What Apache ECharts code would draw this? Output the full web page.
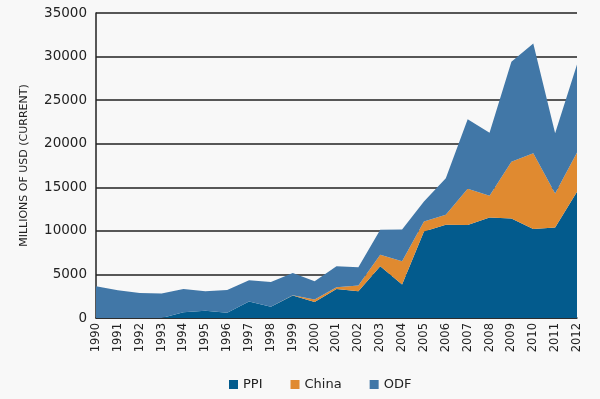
<!DOCTYPE html>
<html>
<head>
<meta charset="utf-8">
<script src="https://cdn.jsdelivr.net/npm/echarts@6/dist/echarts.min.js"></script>
<style>
  html, body { margin: 0; padding: 0; background: #f8f8f8; }
  #main { width: 600px; height: 399px; }
</style>
</head>
<body>
<div id="main"></div>
<script>
// years on the x axis
var years = ['1990', '1991', '1992', '1993', '1994', '1995', '1996', '1997', '1998', '1999', '2000',
    '2001', '2002', '2003', '2004', '2005', '2006', '2007', '2008', '2009', '2010', '2011', '2012'];

// stacked values, millions of USD
var ppi   = [0, 0, 0, 0, 660, 820, 600, 1890, 1280, 2570, 1850,
    3340, 3070, 5930, 3830, 9930, 10700, 10660, 11540, 11420, 10200, 10390, 14500];
var china = [0, 0, 0, 0, 0, 0, 0, 0, 0, 50, 270,
    180, 650, 1340, 2670, 1150, 1140, 4160, 2480, 6520, 8700, 3910, 4500];
var odf   = [3650, 3180, 2880, 2800, 2680, 2250, 2620, 2440, 2860, 2550, 2090,
    2410, 2090, 2860, 3650, 2280, 4200, 7980, 7240, 11460, 12600, 6900, 10100];

var yTicks = [0, 5000, 10000, 15000, 20000, 25000, 30000, 35000];

var fontName = 'DejaVu Sans';

function areaSeries(name, data, color) {
    return {
        name: name,
        type: 'line',
        stack: 'total',
        data: data,
        symbol: 'none',
        lineStyle: { width: 0 },
        areaStyle: { color: color, opacity: 1 },
        itemStyle: { color: color },
        emphasis: { disabled: true }
    };
}

var chart = echarts.init(document.getElementById('main'));
var option = {
    backgroundColor: '#f8f8f8',
    animation: false,
    textStyle: { fontFamily: fontName },
    legend: {
        data: ['PPI', 'China', 'ODF'],
        left: 224,
        top: 373,
        icon: 'rect',
        itemWidth: 9,
        itemHeight: 9,
        itemGap: 28,
        textStyle: { color: '#222', fontSize: 13, fontFamily: fontName }
    },
    grid: {
        left: 96,
        right: 23,
        top: 13,
        bottom: 81,
        containLabel: false
    },
    xAxis: {
        type: 'category',
        data: years,
        boundaryGap: false,
        axisLine: { show: true, lineStyle: { color: '#222', width: 1.5 } },
        axisTick: { show: false },
        axisLabel: {
            rotate: 90,
            interval: 0,
            color: '#222',
            fontSize: 11.5,
            margin: 5,
            fontFamily: fontName
        }
    },
    yAxis: {
        type: 'value',
        min: yTicks[0],
        max: yTicks[yTicks.length - 1],
        interval: 5000,
        name: 'MILLIONS OF USD (CURRENT)',
        nameLocation: 'middle',
        nameGap: 66,
        nameTextStyle: { color: '#222', fontSize: 11, fontFamily: fontName },
        axisLine: { show: true, lineStyle: { color: '#222', width: 1.5 } },
        axisTick: { show: false },
        axisLabel: {
            color: '#222',
            fontSize: 13.5,
            margin: 9,
            fontFamily: fontName,
            formatter: function (v) { return String(v); }
        },
        splitLine: { lineStyle: { color: '#222', width: 1.5 } }
    },
    series: [
        areaSeries('PPI', ppi, '#035b8d'),
        areaSeries('China', china, '#e08a30'),
        areaSeries('ODF', odf, '#4177a7')
    ]
};
chart.setOption(option);
</script>
</body>
</html>
